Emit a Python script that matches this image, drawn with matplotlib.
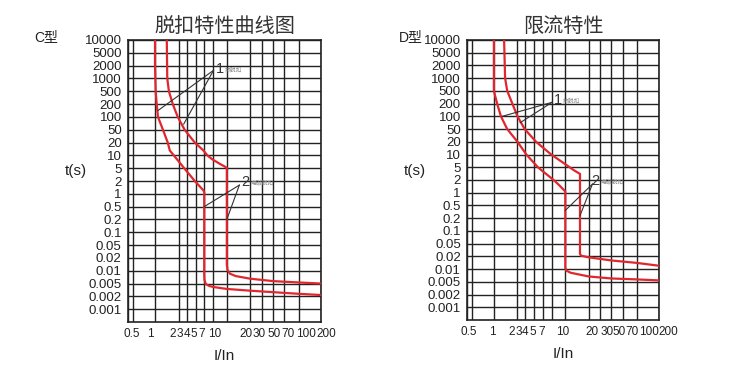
import numpy as np
import matplotlib
matplotlib.use("Agg")
import matplotlib.pyplot as plt
import matplotlib.transforms as mtransforms
from matplotlib.ticker import FixedLocator, FixedFormatter, NullLocator

plt.rcParams['font.family'] = ['Liberation Sans', 'Noto Sans CJK SC', 'DejaVu Sans']
CJK = ['Noto Sans CJK SC', 'DejaVu Sans']

# y axis: equally spaced rows, one per 1-2-5 value
t_ticks = [0.001, 0.002, 0.005, 0.01, 0.02, 0.05, 0.1, 0.2, 0.5, 1, 2, 5,
           10, 20, 50, 100, 200, 500, 1000, 2000, 5000, 10000]
t_labels = ['0.001', '0.002', '0.005', '0.01', '0.02', '0.05', '0.1', '0.2', '0.5',
            '1', '2', '5', '10', '20', '50', '100', '200', '500', '1000', '2000',
            '5000', '10000']
x_ticks = [0.5, 1, 2, 3, 4, 5, 7, 10, 20, 30, 50, 70, 100, 200]
x_labels = ['0.5', '1', '2', '3', '4', '5', '7', '10', '20', '30', '50', '70', '100', '200']
x_extra = [0.57]

# the printed x ruler is hand drawn: where each grid value sits along the axis (0..1)
ruler_vals = [0.5, 0.57, 1, 2, 3, 4, 5, 7, 10, 20, 30, 50, 70, 100, 200]
ruler_frac = [0, 0.024, 0.14, 0.263, 0.304, 0.35, 0.395, 0.443, 0.512,
              0.633, 0.692, 0.752, 0.81, 0.885, 1.0]

# C type curves (I/In, t)
c1_x = [1.0, 1.0, 1.02, 1.05, 1.09, 1.26, 1.45, 1.54, 1.73, 2.64, 3.9, 4.9, 5.0,
        5.0, 5.05, 5.3, 6.0, 7.0, 10, 20, 50, 100, 200]
c1_t = [10000, 2000, 500, 200, 100, 50, 20, 13, 10, 5, 2, 1.2, 1.1,
        0.008, 0.006, 0.0048, 0.0042, 0.0039, 0.0034, 0.003, 0.0027, 0.0024, 0.0022]
c2_x = [1.41, 1.43, 1.5, 1.68, 1.94, 2.7, 3.9, 4.9, 5.6, 6.6, 8.2, 9.4, 10,
        10, 10.2, 11, 13, 20, 50, 100, 200]
c2_t = [10000, 1000, 500, 200, 100, 50, 20, 13, 10, 8.2, 6.4, 5.5, 5.1,
        0.014, 0.0105, 0.0085, 0.0075, 0.0065, 0.0057, 0.0053, 0.005]

# D type curves
d1_x = [1.0, 1.0, 1.0, 1.1, 1.23, 1.48, 2.0, 3.1, 4.4, 7.3, 8.5, 10,
        10, 10.3, 11.7, 20, 50, 100, 200]
d1_t = [10000, 1000, 500, 200, 100, 50, 20, 10, 5, 2, 1.5, 1.07,
        0.011, 0.0092, 0.0082, 0.0067, 0.006, 0.0057, 0.0054]
d2_x = [1.35, 1.39, 1.48, 1.72, 2.0, 2.9, 4.2, 6.8, 10, 13, 15.5,
        15.5, 16, 20, 50, 100, 200]
d2_t = [10000, 1000, 500, 200, 100, 50, 20, 10, 5.9, 4, 3.1,
        0.024, 0.021, 0.019, 0.016, 0.014, 0.012]

# labels and leader lines: (number, small text, text pos, line start, line ends)
c_notes = [('1', '热脱扣', (7.4, 1700), (7.0, 1550), [(1.09, 141), (2.58, 68)]),
           ('2', '电磁脱扣', (15.5, 1.9), (14.5, 1.6), [(5.0, 0.5), (10, 0.2)])]
d_notes = [('1', '热脱扣', (7.4, 260), (7.0, 220), [(1.27, 100), (2.3, 71)]),
           ('2', '电磁脱扣', (21.7, 1.9), (23, 1.6), [(10, 0.35), (15.5, 0.24)])]

# x tick labels in the print are typeset as a run of text, not centred on the lines (px)
c_label_shift = [4, -5, -6, -7, -9, -10, -12, -12, -4, -2, 1, 4, 7, 5]
d_label_shift = [2, -2, -6, -7, -9, -10, -10, -3, 3, 7, 8, 9, 12, 9]

scale_vals = np.log10([0.0005] + t_ticks + [20000])
scale_idx = np.arange(len(scale_vals)) - 1.0
ruler_log = np.log10(ruler_vals)


def fwd(y):
    y = np.asarray(y, dtype=float)
    return np.interp(np.log10(np.clip(y, 1e-9, None)), scale_vals, scale_idx)


def inv(v):
    return 10 ** np.interp(np.asarray(v, dtype=float), scale_idx, scale_vals)


def xfwd(x):
    x = np.asarray(x, dtype=float)
    return np.interp(np.log10(np.clip(x, 1e-9, None)), ruler_log, ruler_frac)


def xinv(v):
    return 10 ** np.interp(np.asarray(v, dtype=float), ruler_frac, ruler_log)


red = '#e0262e'
ink = '#222222'

fig = plt.figure(figsize=(7.42, 3.74), dpi=100)


def panel(rect, curves, notes, title, kind, tx, shifts):
    ax = fig.add_axes(rect)
    ax.set_xscale('function', functions=(xfwd, xinv))
    ax.set_yscale('function', functions=(fwd, inv))
    ax.set_xlim(0.5, 200)
    ax.set_ylim(0.0005, 10000)
    ax.xaxis.set_major_locator(FixedLocator(x_ticks))
    ax.xaxis.set_major_formatter(FixedFormatter(x_labels))
    ax.xaxis.set_minor_locator(FixedLocator(x_extra))
    ax.yaxis.set_major_locator(FixedLocator(t_ticks))
    ax.yaxis.set_major_formatter(FixedFormatter(t_labels))
    ax.yaxis.set_minor_locator(NullLocator())
    ax.grid(True, which='both', color=ink, linewidth=1.0)
    ax.tick_params(which='both', length=0, labelsize=9.5, labelcolor=ink)
    ax.tick_params(axis='x', labelsize=8.5, pad=4)
    ax.tick_params(axis='y', pad=4.5)
    for tick, dx in zip(ax.xaxis.get_major_ticks(), shifts):
        off = mtransforms.ScaledTranslation(dx / 100, 0, fig.dpi_scale_trans)
        tick.label1.set_transform(tick.label1.get_transform() + off)
    for s in ax.spines.values():
        s.set_color(ink)
        s.set_linewidth(1.2)
    for cx, ct in curves:
        ax.plot(cx, ct, color=red, linewidth=1.6, solid_joinstyle='round', zorder=3)
    for num, small, pos, start, ends in notes:
        for e in ends:
            ax.plot([start[0], e[0]], [start[1], e[1]], color='#333333',
                    linewidth=0.8, zorder=4)
        ax.text(pos[0], pos[1], num, fontsize=10.5, color='#333333',
                ha='left', va='center', zorder=5)
        ax.annotate(small, xy=pos, xytext=(6.5, -0.5), textcoords='offset points',
                    fontsize=4.2, color='#8a8a8a', ha='left', va='center',
                    family=CJK, zorder=5)
    ax.set_xlabel('I/In', fontsize=11, color=ink, labelpad=7)
    cx = rect[0] + rect[2] / 2
    fig.text(cx, 1 - 26 / 374, title, fontsize=14.5, color='#333333',
             ha='center', va='center', family=CJK)
    fig.text(tx[0] / 742, 1 - 37 / 374, kind, fontsize=10, color=ink,
             ha='left', va='center', family=['Liberation Sans', 'Noto Sans CJK SC'])
    fig.text(tx[1] / 742, 1 - 171 / 374, 't(s)', fontsize=11, color=ink,
             ha='left', va='center')
    return ax


panel([128 / 742, 1 - 322 / 374, 193 / 742, 282 / 374],
      [(c1_x, c1_t), (c2_x, c2_t)], c_notes, '脱扣特性曲线图', 'C型', (34, 65),
      c_label_shift)
panel([467 / 742, 1 - 320 / 374, 192 / 742, 280 / 374],
      [(d1_x, d1_t), (d2_x, d2_t)], d_notes, '限流特性', 'D型', (399, 404),
      d_label_shift)

fig.savefig('out.png', dpi=100)
